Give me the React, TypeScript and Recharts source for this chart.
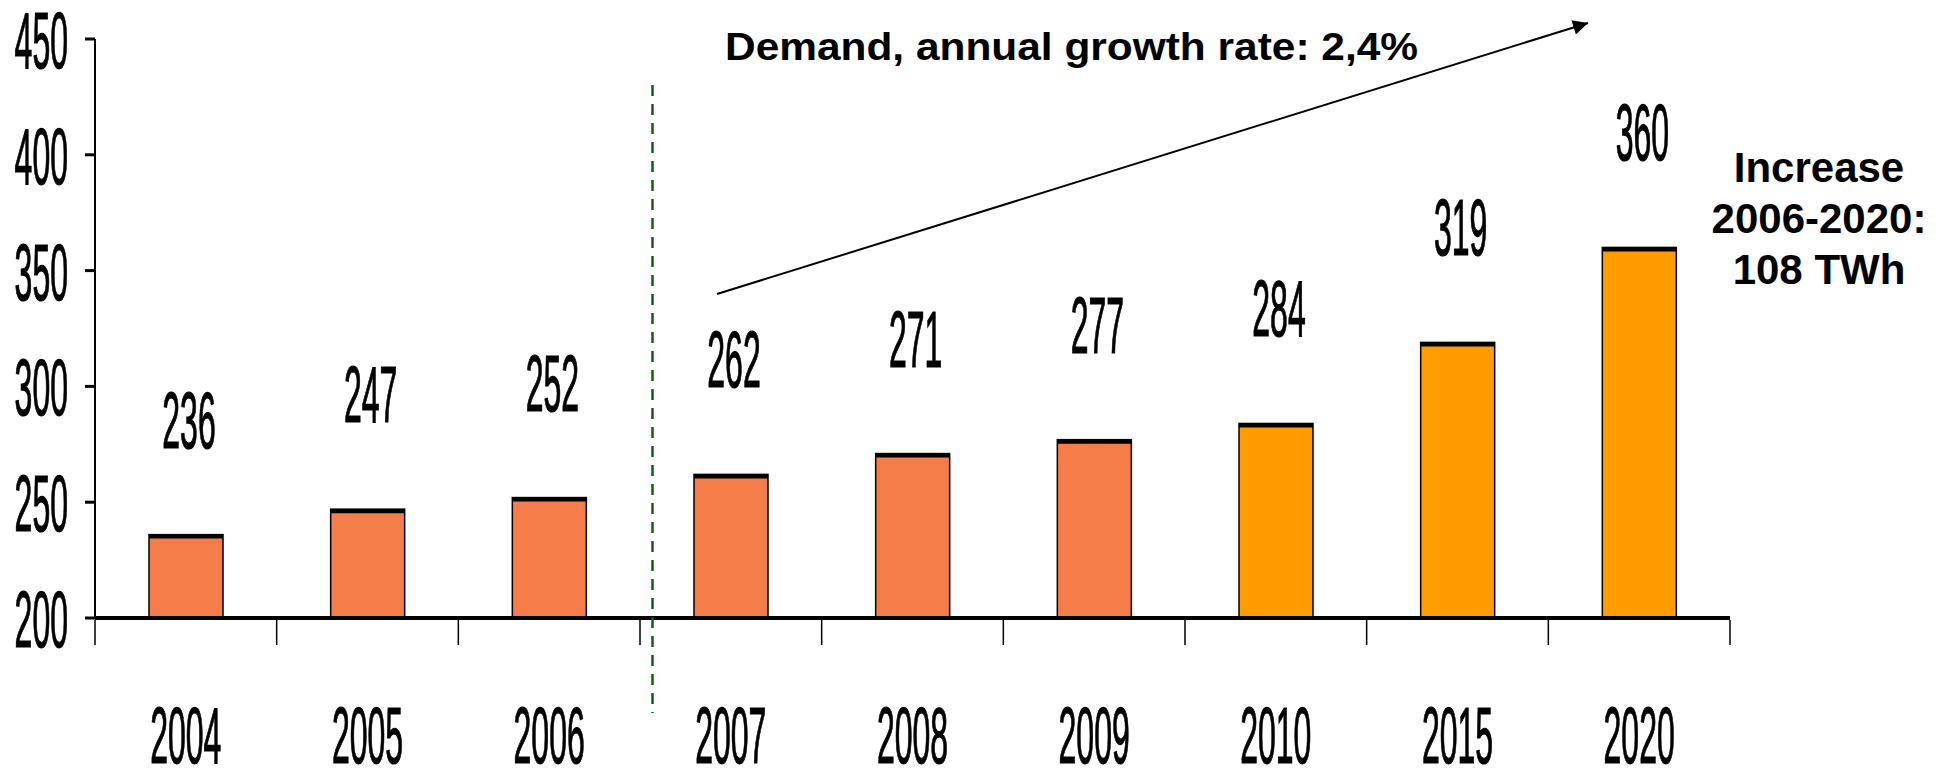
import React from "react"
import { BarChart, Bar, XAxis, YAxis, Cell, LabelList } from "recharts"

const years = ["2004", "2005", "2006", "2007", "2008", "2009", "2010", "2015", "2020"]
const demand = [236, 247, 252, 262, 271, 277, 284, 319, 360]
const forecastYears = ["2010", "2015", "2020"]
const yTicks = [200, 250, 300, 350, 400, 450]

const W = 1946
const H = 770
const M = { top: 39, right: 216, left: 0, bottom: 0 }
const Y_AXIS_W = 95
const BAND = (W - M.left - M.right - Y_AXIS_W) / years.length

const NUM_FONT = "'Liberation Sans', Arial, sans-serif"
const SQUEEZE = 0.4 // the chart numbers are a very narrow, tall face

const data = years.map((year, i) => ({ year, demand: demand[i] }))

const NarrowText = ({ x, y, anchor, children }: any) => (
  <g transform={`translate(${x},${y})`}>
    <text
      transform={`scale(${SQUEEZE},1)`}
      textAnchor={anchor}
      fontFamily={NUM_FONT}
      fontSize={80}
      fill="#000"
      stroke="#000"
      strokeWidth={1.2}
    >
      {children}
    </text>
  </g>
)

const YTick = ({ x, y, payload }: any) => (
  <NarrowText x={x} y={y + 29} anchor="end">
    {payload.value}
  </NarrowText>
)

const XTick = ({ x, y, payload, index }: any) => {
  const left = x - BAND / 2
  const right = x + BAND / 2
  return (
    <g>
      <line x1={left} x2={left} y1={y + 2} y2={y + 27} stroke="#000" strokeWidth={1.5} />
      {index === years.length - 1 && (
        <line x1={right} x2={right} y1={y + 2} y2={y + 27} stroke="#000" strokeWidth={1.5} />
      )}
      <NarrowText x={x} y={y + 145} anchor="middle">
        {payload.value}
      </NarrowText>
    </g>
  )
}

const BarShape = ({ x, y, width, height, fill }: any) => (
  <g>
    <rect x={x} y={y} width={width} height={height} fill={fill} stroke="#000" strokeWidth={1.5} />
    <line x1={x} x2={x + width} y1={y + 2} y2={y + 2} stroke="#000" strokeWidth={4} />
  </g>
)

const ValueLabel = ({ x, y, width, value }: any) => (
  <NarrowText x={x + width / 2 + 3} y={y - 87} anchor="middle">
    {value}
  </NarrowText>
)

export default function App() {
  return (
    <div style={{ position: "absolute", left: 0, top: 0, width: W, height: H, background: "#fff" }}>
      <BarChart width={W} height={H} data={data} margin={M}>
        <XAxis
          dataKey="year"
          interval={0}
          height={152}
          tickSize={0}
          tickMargin={0}
          tickLine={false}
          axisLine={{ stroke: "#000", strokeWidth: 4 }}
          tick={<XTick />}
        />
        <YAxis
          width={Y_AXIS_W}
          domain={[200, 450]}
          ticks={yTicks}
          allowDataOverflow
          tickSize={10}
          tickMargin={17}
          tickLine={{ stroke: "#000", strokeWidth: 3 }}
          axisLine={{ stroke: "#000", strokeWidth: 2 }}
          tick={<YTick />}
        />
        <Bar dataKey="demand" barSize={74} shape={<BarShape />} isAnimationActive={false}>
          {data.map((d) => (
            <Cell key={d.year} fill={forecastYears.includes(d.year) ? "#FF9D00" : "#F47D4A"} />
          ))}
          <LabelList dataKey="demand" content={<ValueLabel />} />
        </Bar>
      </BarChart>

      <svg
        width={W}
        height={H}
        style={{ position: "absolute", left: 0, top: 0, pointerEvents: "none" }}
      >
        <defs>
          <marker
            id="arrowHead"
            viewBox="0 0 10 10"
            refX={10}
            refY={5}
            markerUnits="userSpaceOnUse"
            markerWidth={22}
            markerHeight={15}
            orient="auto"
          >
            <path d="M0,0 L10,5 L0,10 z" fill="#000" />
          </marker>
        </defs>
        {/* split between actuals and forecast */}
        <line x1={652.5} x2={652.5} y1={85} y2={713} stroke="#0B660B" strokeWidth={2.5} strokeDasharray="11 8" />
        <line x1={717} y1={294} x2={1588} y2={23} stroke="#000" strokeWidth={2} markerEnd="url(#arrowHead)" />
        <text
          x={725}
          y={60}
          fontFamily={NUM_FONT}
          fontWeight="bold"
          fontSize={38}
          textLength={693}
          lengthAdjust="spacingAndGlyphs"
        >
          Demand, annual growth rate: 2,4%
        </text>
        <text x={1819} fontFamily={NUM_FONT} fontWeight="bold" fontSize={42} textAnchor="middle">
          <tspan x={1819} y={182}>Increase</tspan>
          <tspan x={1819} y={233}>2006-2020:</tspan>
          <tspan x={1819} y={284}>108 TWh</tspan>
        </text>
      </svg>
    </div>
  )
}
